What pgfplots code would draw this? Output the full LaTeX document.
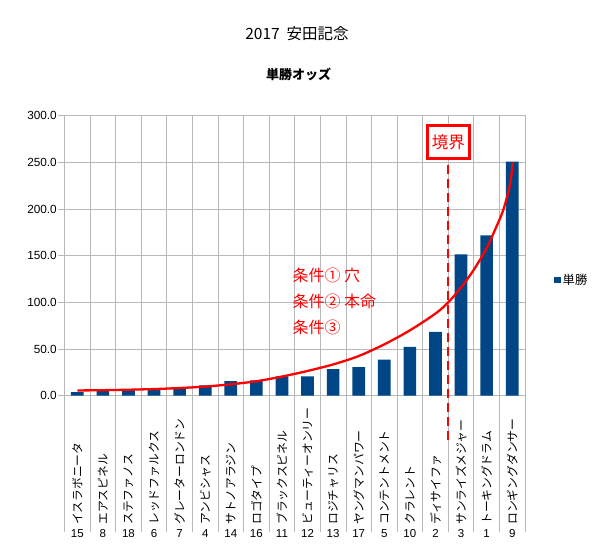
\documentclass[border=0pt]{standalone}
\usepackage{pgfplots}
\pgfplotsset{compat=1.18}
\usepackage{fontspec}
\setmainfont{Liberation Sans}
\newfontfamily\cjk{Noto Sans CJK JP}
\definecolor{barblue}{HTML}{004586}
\definecolor{gridgray}{HTML}{B8B8B8}
\newcommand{\xl}[2]{\rotatebox{90}{\cjk\fontsize{11.8bp}{12bp}\selectfont #1}\\#2}
\begin{document}
\begin{tikzpicture}[x=1bp,y=1bp]
\useasboundingbox (0,0) rectangle (600,558);
\node[font=\cjk\fontsize{15.5bp}{17bp}\selectfont] at (297,524.7) {2017\hspace{0.45em}安田記念};
\node[font=\cjk\bfseries\fontsize{13bp}{15bp}\selectfont] at (298.5,483.7) {単勝オッズ};
\begin{axis}[
  at={(64.5bp,162.3bp)}, anchor=south west,
  scale only axis, width=460.5bp, height=280bp,
  xmin=-0.5, xmax=17.5, ymin=0, ymax=300,
  clip=false,
  axis line style={gridgray},
  tick align=outside,
  major tick length=6bp,
  minor tick length=136bp,
  tick style={gridgray, line width=0.8bp},
  major x tick style={draw=none},
  xtick={0,...,17},
  minor xtick={-0.5,0.5,...,17.5},
  xminorgrids, ymajorgrids,
  grid style={gridgray, line width=0.8bp},
  minor grid style={gridgray, line width=0.8bp},
  xtick pos=bottom, ytick pos=left,
  ytick={0,50,...,300},
  yticklabel style={/pgf/number format/fixed, /pgf/number format/fixed zerofill, /pgf/number format/precision=1, font=\fontsize{11.8bp}{13bp}\selectfont, inner sep=1.5bp},
  /pgf/number format/assume math mode=true,
  xticklabels={
    {\xl{イスラボニータ}{15}},
    {\xl{エアスピネル}{8}},
    {\xl{ステファノス}{18}},
    {\xl{レッドファルクス}{6}},
    {\xl{グレーターロンドン}{7}},
    {\xl{アンビシャス}{4}},
    {\xl{サトノアラジン}{14}},
    {\xl{ロゴタイプ}{16}},
    {\xl{ブラックスピネル}{11}},
    {\xl{ビューティーオンリー}{12}},
    {\xl{ロジチャリス}{13}},
    {\xl{ヤングマンパワー}{17}},
    {\xl{コンテントメント}{5}},
    {\xl{クラレント}{10}},
    {\xl{ディサイファ}{2}},
    {\xl{サンライズメジャー}{3}},
    {\xl{トーキングドラム}{1}},
    {\xl{ロンギングダンサー}{9}}
  },
  xticklabel style={align=center, anchor=south, inner sep=0pt, yshift=-136.3bp, font=\fontsize{11.5bp}{13bp}\selectfont},
  legend style={at={(1.063,0.413)}, anchor=west, draw=none, fill=none, inner sep=0pt,
    font=\cjk\fontsize{12.3bp}{14bp}\selectfont},
]
\addplot[ybar, bar width=12.7bp, bar shift=0pt, fill=barblue, draw=none,
  legend image code/.code={\fill[barblue] (0bp,-3.3bp) rectangle (6.5bp,3.3bp);}]
  coordinates {(0,3.9) (1,7.1) (2,7.1) (3,6.9) (4,8.0) (5,11.0) (6,15.6) (7,16.3) (8,20.6)
  (9,20.7) (10,28.5) (11,30.6) (12,38.7) (13,52.2) (14,68.4) (15,151.4) (16,171.8) (17,250.8)};
\addlegendentry{単勝}
\addplot[red, line width=2.3bp, smooth, forget plot] coordinates {
  (0,5.6) (1,5.9) (2,6.4) (3,7.1) (4,8.2) (5,9.8) (6,12.2) (7,15.5) (8,20.5) (9,26.5)
  (10,33.5) (11,42.5) (12,55) (13,70) (14,88) (14.5,100) (15,116) (15.5,135) (16,158)
  (16.3,176) (16.65,199) (16.92,227) (17.02,250)};
\draw[red, line width=2.3bp, dash pattern=on 9bp off 5bp] (axis cs:14.5,-47) -- (axis cs:14.5,255);
\node[draw=red, line width=2.5bp, fill=white, text=red, minimum width=42bp, minimum height=33bp, inner sep=0pt,
  font=\cjk\fontsize{16.5bp}{18bp}\selectfont] at (axis cs:14.5,272) {境界};
\node[anchor=west, inner sep=0pt, text=red, font=\cjk\fontsize{16bp}{18bp}\selectfont] at (axis cs:8.41,128.4) {条件① 穴};
\node[anchor=west, inner sep=0pt, text=red, font=\cjk\fontsize{16bp}{18bp}\selectfont] at (axis cs:8.41,100.6) {条件② 本命};
\node[anchor=west, inner sep=0pt, text=red, font=\cjk\fontsize{16bp}{18bp}\selectfont] at (axis cs:8.41,72.8) {条件③};
\end{axis}
\end{tikzpicture}
\end{document}
